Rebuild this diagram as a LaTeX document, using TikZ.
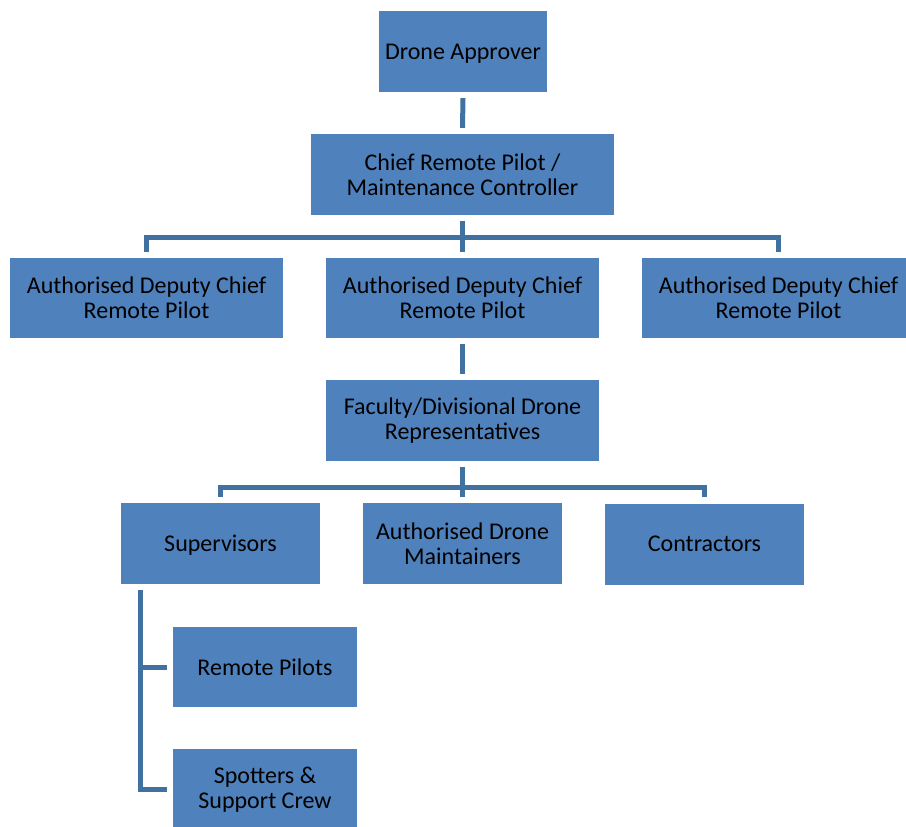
\documentclass[tikz,border=0pt]{standalone}
\usepackage{fontspec}
\setmainfont{Carlito}
\usepackage{tikz}

\definecolor{boxblue}{RGB}{79,129,189}
\definecolor{lineblue}{RGB}{65,113,160}

\tikzset{
	role/.style={fill=boxblue, inner sep=0pt, align=center, text=black,
		minimum height=81pt, font=\fontsize{24}{25}\selectfont},
	oneline/.style={text depth=0pt},
	link/.style={draw=lineblue, line width=5pt}
}

\begin{document}
\begin{tikzpicture}[x=1pt, y=-1pt]
	\useasboundingbox (0, 0) rectangle (906, 827);

	\node[role, oneline, minimum width=168pt] (appr) at (463, 51.5) {Drone Approver};
	\node[role, minimum width=303pt] (chief) at (462.5, 174.5) {Chief Remote Pilot /\\Maintenance Controller};

	\node[role, minimum width=273pt, minimum height=80pt] (depL) at (146.5, 298) {Authorised Deputy Chief\\Remote Pilot};
	\node[role, minimum width=273pt, minimum height=80pt] (depM) at (462.5, 298) {Authorised Deputy Chief\\Remote Pilot};
	\node[role, minimum width=273pt, minimum height=80pt] (depR) at (778.5, 298) {Authorised Deputy Chief\\Remote Pilot};

	\node[role, minimum width=273pt] (fac) at (462.5, 420.5) {Faculty/Divisional Drone\\Representatives};

	\node[role, oneline, minimum width=199pt] (sup) at (220.5, 543.5) {Supervisors};
	\node[role, minimum width=199pt] (maint) at (462.5, 543.5) {Authorised Drone\\Maintainers};
	\node[role, minimum width=199pt] (contr) at (704.5, 544) {Contractors};

	\node[role, minimum width=184pt, minimum height=80pt] (pil) at (265, 667) {Remote Pilots};
	\node[role, minimum width=184pt] (spot) at (265, 789.5) {Spotters \&\\Support Crew};

	% top chain
	\draw[link] ([yshift=-6pt]appr.south) -- ([yshift=6pt]chief.north);
	\coordinate (barA) at (463, 237);
	\draw[link] ([yshift=-6pt]chief.south) -- ([yshift=6pt]depM.north);
	\draw[link] ([yshift=6pt]depL.north) |- (barA) -| ([yshift=6pt]depR.north);

	% faculty
	\draw[link] ([yshift=-6pt]depM.south) -- ([yshift=6pt]fac.north);
	\coordinate (barB) at (463, 487);
	\draw[link] ([yshift=-6pt]fac.south) -- ([yshift=6pt]maint.north);
	\draw[link] ([yshift=6pt]sup.north) |- (barB) -| ([yshift=6pt]contr.north);

	% supervisors
	\coordinate (spine) at (140, 590);
	\draw[link] (spine) |- ([xshift=-6pt]spot.west);
	\draw[link] (spine |- pil.west) -- ([xshift=-6pt]pil.west);
\end{tikzpicture}
\end{document}
